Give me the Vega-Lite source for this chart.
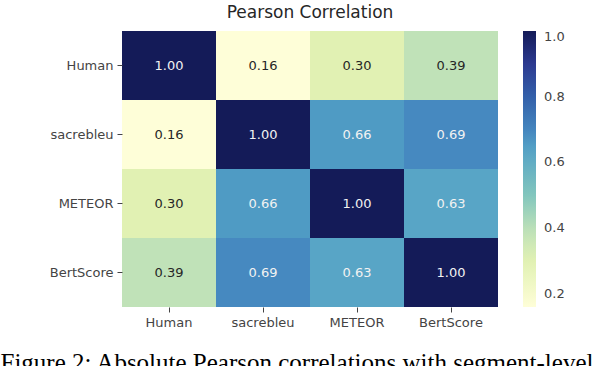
{
  "$schema": "https://vega.github.io/schema/vega-lite/v6.json",
  "width": 376,
  "height": 276,
  "autosize": {"type": "none"},
  "padding": {"left": 122, "top": 31, "right": 106, "bottom": 59},
  "background": "white",
  "title": {"text": "Pearson Correlation", "font": "DejaVu Sans", "fontSize": 17, "fontWeight": "normal", "color": "#262626", "offset": 9},
  "data": {
    "values": [
      {"row": "Human", "col": "Human", "v": 1.00},
      {"row": "Human", "col": "sacrebleu", "v": 0.16},
      {"row": "Human", "col": "METEOR", "v": 0.30},
      {"row": "Human", "col": "BertScore", "v": 0.39},
      {"row": "sacrebleu", "col": "Human", "v": 0.16},
      {"row": "sacrebleu", "col": "sacrebleu", "v": 1.00},
      {"row": "sacrebleu", "col": "METEOR", "v": 0.66},
      {"row": "sacrebleu", "col": "BertScore", "v": 0.69},
      {"row": "METEOR", "col": "Human", "v": 0.30},
      {"row": "METEOR", "col": "sacrebleu", "v": 0.66},
      {"row": "METEOR", "col": "METEOR", "v": 1.00},
      {"row": "METEOR", "col": "BertScore", "v": 0.63},
      {"row": "BertScore", "col": "Human", "v": 0.39},
      {"row": "BertScore", "col": "sacrebleu", "v": 0.69},
      {"row": "BertScore", "col": "METEOR", "v": 0.63},
      {"row": "BertScore", "col": "BertScore", "v": 1.00}
    ]
  },
  "encoding": {
    "x": {"field": "col", "type": "nominal", "sort": ["Human", "sacrebleu", "METEOR", "BertScore"],
      "scale": {"paddingInner": 0, "paddingOuter": 0},
      "axis": {"title": "Figure 2: Absolute Pearson correlations with segment-level", "titleFont": "Liberation Serif", "titleFontSize": 25, "titleFontWeight": "normal", "titleColor": "black", "titleAnchor": "start", "titleAlign": "left", "titleBaseline": "alphabetic", "titleX": -122, "titleY": 63,
        "labelAngle": 0, "labelFont": "DejaVu Sans", "labelFontSize": 13, "labelColor": "#444", "domain": false, "tickColor": "#444", "tickSize": 5, "labelPadding": 4}},
    "y": {"field": "row", "type": "nominal", "sort": ["Human", "sacrebleu", "METEOR", "BertScore"],
      "scale": {"paddingInner": 0, "paddingOuter": 0},
      "axis": {"title": null, "labelFont": "DejaVu Sans", "labelFontSize": 13, "labelColor": "#444", "domain": false, "tickColor": "#444", "tickSize": 5, "labelPadding": 4}}
  },
  "layer": [
    {
      "mark": {"type": "rect"},
      "encoding": {
        "color": {"field": "v", "type": "quantitative",
          "scale": {"domain": [0.16, 0.30, 0.39, 0.5, 0.63, 0.66, 0.69, 0.8, 0.9, 1.0], "range": ["#fefed8", "#e1f1b3", "#c0e2b8", "#82c6bd", "#58a5c6", "#4f9bc4", "#4689c0", "#3360aa", "#2c3a90", "#141b58"], "interpolate": "rgb"},
          "legend": {"title": null, "orient": "right", "offset": 25, "gradientLength": 276, "gradientThickness": 13, "gradientStrokeWidth": 0,
            "values": [0.2, 0.4, 0.6, 0.8, 1.0], "format": ".1f", "labelFont": "DejaVu Sans", "labelFontSize": 13, "labelColor": "#444", "labelBaseline": "middle", "labelOffset": 8, "padding": 0}}
      }
    },
    {
      "mark": {"type": "text", "font": "DejaVu Sans", "fontSize": 13},
      "encoding": {
        "text": {"field": "v", "type": "quantitative", "format": ".2f"},
        "color": {"condition": {"test": "datum.v > 0.5", "value": "#f2f2f2"}, "value": "#262626"}
      }
    }
  ],
  "config": {"view": {"stroke": null}}
}
